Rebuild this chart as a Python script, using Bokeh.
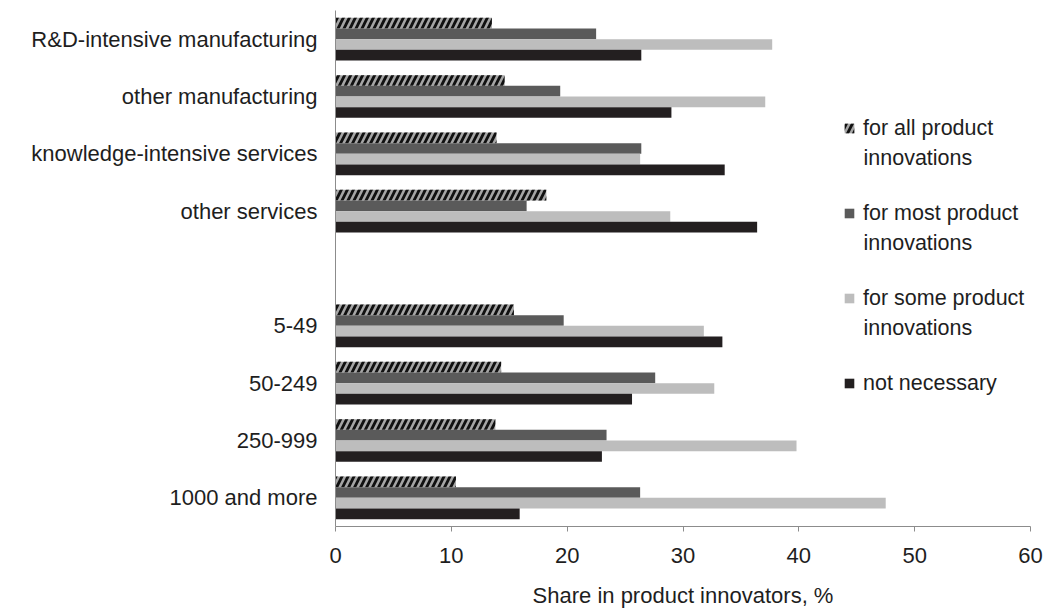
from bokeh.plotting import figure
from bokeh.models import FactorRange, Range1d, FixedTicker, Legend, LegendItem, Label
from bokeh.transform import dodge
from bokeh.embed import file_html
from bokeh.resources import INLINE

categories = ["R&D-intensive manufacturing", "other manufacturing",
              "knowledge-intensive services", "other services",
              "", "5-49", "50-249", "250-999", "1000 and more"]
all_prod  = [13.5, 14.6, 13.9, 18.2, None, 15.4, 14.3, 13.8, 10.4]
most_prod = [22.5, 19.4, 26.4, 16.5, None, 19.7, 27.6, 23.4, 26.3]
some_prod = [37.7, 37.1, 26.3, 28.9, None, 31.8, 32.7, 39.8, 47.5]
not_nec   = [26.4, 29.0, 33.6, 36.4, None, 33.4, 25.6, 23.0, 15.9]
series_first = ["for all product", "for most product", "for some product", "not necessary"]
series_second = ["innovations", "innovations", "innovations", ""]
x_ticks = [0, 10, 20, 30, 40, 50, 60]

FONT = "Liberation Sans"
TXT = "#1e1e1e"
FS = "22px"
LFS = "21.5px"

data = dict(cat=categories,
            a=[v if v is not None else 0 for v in all_prod],
            b=[v if v is not None else 0 for v in most_prod],
            c=[v if v is not None else 0 for v in some_prod],
            d=[v if v is not None else 0 for v in not_nec])

p = figure(width=1046, height=610, output_backend="svg", toolbar_location=None,
           y_range=FactorRange(factors=list(reversed(categories))),
           x_range=Range1d(0, 60),
           min_border_left=335, min_border_right=16, min_border_top=10, min_border_bottom=84)

h = 0.186
r1 = p.hbar(y=dodge("cat", 1.5 * h, range=p.y_range), right="a", left=0, height=h, source=data,
            fill_color="#a6a6a6", line_color=None, hatch_pattern="/", hatch_color="#111111",
            hatch_weight=2.8, hatch_scale=12)
r2 = p.hbar(y=dodge("cat", 0.5 * h, range=p.y_range), right="b", left=0, height=h, source=data,
            fill_color="#5a5a5a", line_color=None)
r3 = p.hbar(y=dodge("cat", -0.5 * h, range=p.y_range), right="c", left=0, height=h, source=data,
            fill_color="#bdbdbd", line_color=None)
r4 = p.hbar(y=dodge("cat", -1.5 * h, range=p.y_range), right="d", left=0, height=h, source=data,
            fill_color="#231f20", line_color=None)

p.xgrid.visible = False
p.ygrid.visible = False
p.outline_line_color = None

p.xaxis.ticker = FixedTicker(ticks=x_ticks)
p.xaxis.axis_line_color = "#8c8c8c"
p.xaxis.major_tick_line_color = "#8c8c8c"
p.xaxis.major_tick_out = 5
p.xaxis.major_tick_in = 0
p.xaxis.minor_tick_line_color = None
p.xaxis.major_label_text_font = FONT
p.xaxis.major_label_text_font_size = FS
p.xaxis.major_label_text_color = TXT
p.xaxis.major_label_standoff = 16
p.xaxis.axis_label = "Share in product innovators, %"
p.xaxis.axis_label_text_font = FONT
p.xaxis.axis_label_text_font_size = FS
p.xaxis.axis_label_text_font_style = "normal"
p.xaxis.axis_label_text_color = TXT
p.xaxis.axis_label_standoff = 17

p.yaxis.axis_line_color = "#8c8c8c"
p.yaxis.major_tick_line_color = None
p.yaxis.minor_tick_line_color = None
p.yaxis.major_label_text_font = FONT
p.yaxis.major_label_text_font_size = FS
p.yaxis.major_label_text_color = TXT
p.yaxis.major_label_standoff = 12

legend = Legend(items=[LegendItem(label=series_first[i], renderers=[r])
                       for i, r in enumerate([r1, r2, r3, r4])],
                location=(508, 129), glyph_width=12, glyph_height=12, label_standoff=8,
                label_height=28, spacing=57, padding=0, margin=0, border_line_color=None,
                background_fill_alpha=0, label_text_font=FONT, label_text_font_size=LFS,
                label_text_color=TXT)
p.add_layout(legend, "center")

second_y = [369, 284, 199]
for txt, yy in zip(series_second, second_y):
    if txt:
        p.add_layout(Label(x=528, y=yy, x_units="screen", y_units="screen", text=txt,
                           text_font=FONT, text_font_size=LFS, text_color=TXT,
                           text_baseline="middle", text_align="left"))

open("out.html", "w").write(file_html(p, INLINE))
